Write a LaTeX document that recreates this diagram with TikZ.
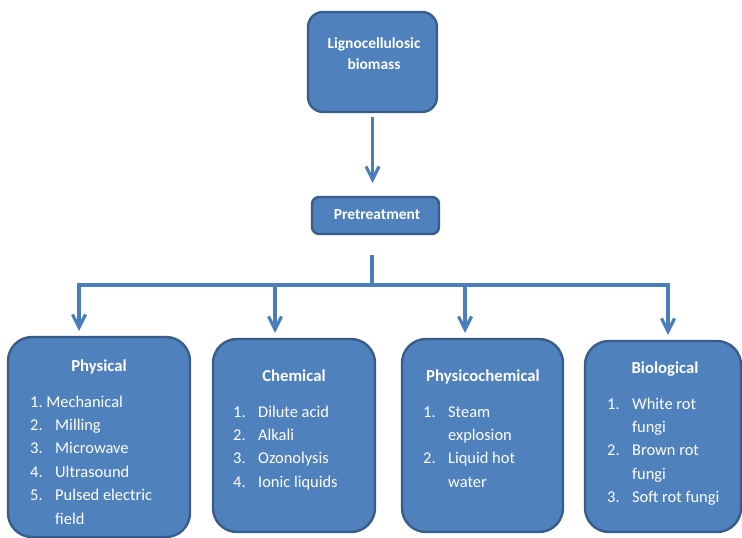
\documentclass[tikz,border=0pt]{standalone}
\usepackage{fontspec}
\setmainfont{Carlito}
\usetikzlibrary{arrows.meta}
\definecolor{boxfill}{HTML}{4F81BD}
\definecolor{boxline}{HTML}{385D8A}
\definecolor{linkcol}{HTML}{4A7EBB}
% numbered entry with a hanging indent
\newcommand\numitem[2]{\makebox[25bp][l]{#1}#2}
\begin{document}
\begin{tikzpicture}[x=1bp,y=-1bp,
  panel/.style={draw=boxline, fill=boxfill, line width=2.4bp, inner sep=0pt, outer sep=0pt},
  title/.style={text=white, font=\fontsize{15.5}{21}\selectfont\bfseries, inner sep=0pt, anchor=base},
  head/.style={title, font=\fontsize{16.8}{21}\selectfont\bfseries},
  items/.style={text=white, font=\fontsize{16.5}{23.5}\selectfont, inner sep=0pt, anchor=base west},
  link/.style={draw=linkcol, line width=3.2bp},
  arrow/.style={link, -{Straight Barb[length=13bp,width=13bp]}}]
\useasboundingbox (0,0) rectangle (742,538);

% boxes
\node[panel, rounded corners=15bp, minimum width=129bp, minimum height=100bp] (src) at (372.5,62) {};
\node[panel, rounded corners=7bp, minimum width=127bp, minimum height=37bp] (pre) at (375.5,215.5) {};
\node[panel, rounded corners=24bp, minimum width=182bp, minimum height=200bp] (phys) at (99,437) {};
\node[panel, rounded corners=24bp, minimum width=162bp, minimum height=193bp] (chem) at (294,435.5) {};
\node[panel, rounded corners=24bp, minimum width=161bp, minimum height=193bp] (pchem) at (482.5,435.5) {};
\node[panel, rounded corners=24bp, minimum width=156bp, minimum height=191bp] (bio) at (663,436.5) {};

% headings
\node[title] (srcA) at (374,49) {Lignocellulosic};
\node[title] (srcB) at (374,70) {biomass};
\node[title] (preT) at (377,220) {Pretreatment};
\node[head] (physT) at (99,371) {Physical};
\node[head] (chemT) at (294,381) {Chemical};
\node[head] (pchemT) at (483,381) {Physicochemical};
\node[head] (bioT) at (665,373) {Biological};

% lists
\node[items] (physL) at (30,407) {\begin{tabular}[t]{@{}l@{}}
1.\ Mechanical\\
\numitem{2.}{Milling}\\
\numitem{3.}{Microwave}\\
\numitem{4.}{Ultrasound}\\
\numitem{5.}{Pulsed electric}\\
\numitem{}{field}
\end{tabular}};
\node[items] (chemL) at (233,417) {\begin{tabular}[t]{@{}l@{}}
\numitem{1.}{Dilute acid}\\
\numitem{2.}{Alkali}\\
\numitem{3.}{Ozonolysis}\\
\numitem{4.}{Ionic liquids}
\end{tabular}};
\node[items] (pchemL) at (423,417) {\begin{tabular}[t]{@{}l@{}}
\numitem{1.}{Steam}\\
\numitem{}{explosion}\\
\numitem{2.}{Liquid hot}\\
\numitem{}{water}
\end{tabular}};
\node[items] (bioL) at (607,409) {\begin{tabular}[t]{@{}l@{}}
\numitem{1.}{White rot}\\
\numitem{}{fungi}\\
\numitem{2.}{Brown rot}\\
\numitem{}{fungi}\\
\numitem{3.}{Soft rot fungi}
\end{tabular}};

% connectors
\draw[arrow, shorten <=5bp, shorten >=14bp] (src.south) -- (src.south |- pre.north);
\coordinate (bus) at (372,285);
\coordinate (j1) at (79,285);
\coordinate (j2) at (275,285);
\coordinate (j3) at (465,285);
\coordinate (j4) at (668,285);
\draw[link, shorten <=21bp] (pre.south -| bus) -- (bus);
\draw[link, line cap=rect] (j1) -- (j4);
\draw[arrow, shorten >=6bp] (j1) -- (j1 |- phys.north);
\draw[arrow, shorten >=6bp] (j2) -- (j2 |- chem.north);
\draw[arrow, shorten >=6bp] (j3) -- (j3 |- pchem.north);
\draw[arrow, shorten >=6bp] (j4) -- (j4 |- bio.north);
\end{tikzpicture}
\end{document}
